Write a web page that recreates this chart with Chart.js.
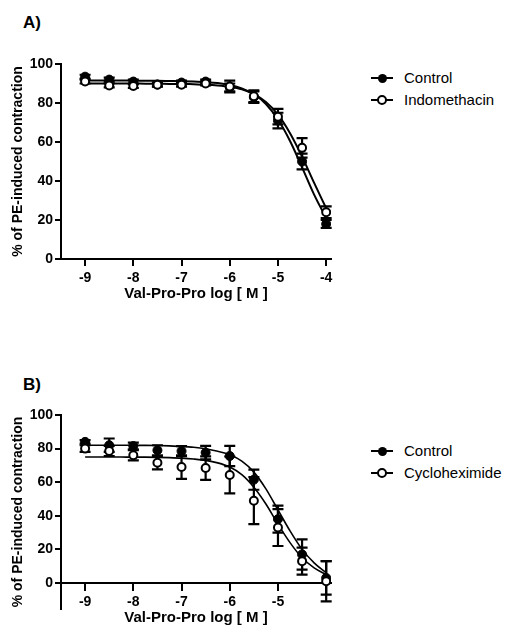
<!DOCTYPE html>
<html>
<head>
<meta charset="utf-8">
<title>Val-Pro-Pro dose response</title>
<script src="https://cdn.jsdelivr.net/npm/chart.js@4"></script>
<style>
body { margin: 0; background: #fff; width: 507px; height: 628px; position: relative; overflow: hidden; font-family: Arial, "Liberation Sans", sans-serif; color: #000; }
canvas { position: absolute; left: 0; }
.tag { position: absolute; left: 23px; font-weight: bold; font-size: 17px; line-height: 17px; }
.legend { position: absolute; left: 371px; font-size: 15px; }
.legend .row { position: relative; height: 22px; line-height: 22px; padding-left: 33px; white-space: nowrap; }
.legend .sym { position: absolute; left: 0; top: 10px; width: 22px; height: 2px; background: #000; }
.legend .dot { position: absolute; left: 6.5px; top: -3.5px; width: 9px; height: 9px; border-radius: 50%; background: #000; box-sizing: border-box; }
.legend .dot.open { left: 6px; top: -4px; width: 10px; height: 10px; background: #fff; border: 2px solid #000; }
</style>
</head>
<body>
<div class="tag" style="top:14px">A)</div>
<canvas id="chartA" width="345" height="310" style="top:0px"></canvas>
<div class="legend" id="legendA" style="top:67px"></div>

<div class="tag" style="top:376px">B)</div>
<canvas id="chartB" width="345" height="310" style="top:318px"></canvas>
<div class="legend" id="legendB" style="top:440px"></div>

<script>
// doses (log M) and the x positions used to trace the fitted curves
const doseX = [-9, -8.5, -8, -7.5, -7, -6.5, -6, -5.5, -5, -4.5, -4];
const fitX = [-9, -8.75, -8.5, -8.25, -8, -7.75, -7.5, -7.25, -7, -6.75, -6.5,
              -6.25, -6, -5.75, -5.5, -5.25, -5, -4.75, -4.5, -4.25, -4];

const xTickValues = [-9, -8, -7, -6, -5, -4];
const xTickLabelsA = ['-9', '-8', '-7', '-6', '-5', '-4'];
const xTickLabelsB = ['-9', '-8', '-7', '-6', '-5'];
const yTickValues = [0, 20, 40, 60, 80, 100];

const xTitle = 'Val-Pro-Pro log [ M ]';
const yTitle = '% of PE-induced contraction';

// Panel A
const seriesNamesA = ['Control', 'Indomethacin'];
const controlA = [93.5, 92, 91, 89.5, 90.5, 91, 88, 83, 71, 50, 18];
const controlErrA = [1, 1, 1, 1, 1, 1, 2, 3, 4, 4, 2];
const indoA = [91, 89, 88.7, 89.4, 89.4, 90, 88.5, 83.5, 73, 57, 24];
const indoErrA = [1, 1, 1, 1, 1, 1, 3, 3, 4, 5, 3];
const controlFitA = [91.5, 91.5, 91.5, 91.5, 91.5, 91.4, 91.4, 91.3, 91.2, 91, 90.7,
                     90.2, 89.2, 87.5, 84.5, 79.5, 71.5, 60.5, 47, 33, 21];
const indoFitA = [90, 90, 90, 90, 90, 89.9, 89.9, 89.8, 89.8, 89.6, 89.4,
                  89, 88.3, 87, 84.5, 80.5, 74, 64.5, 52.5, 39, 26];

// Panel B
const seriesNamesB = ['Control', 'Cycloheximide'];
const controlB = [84, 82, 81.5, 79, 78.5, 77.6, 75.6, 61.5, 38, 17, 3];
const controlErrB = [1, 4, 2, 3, 3, 4, 6, 6, 8, 9, 10];
const cycloB = [80, 78.6, 76, 71.6, 69, 68.4, 64.3, 49, 33, 13, 1];
const cycloErrB = [2, 3, 3, 4, 7, 7, 11, 14, 11, 8, 12];
const controlFitB = [82, 82, 82, 82, 81.9, 81.9, 81.8, 81.6, 81.3, 80.8, 79.9,
                     78.4, 76.3, 72.5, 66, 56, 43.5, 31, 20, 12, 6];
const cycloFitB = [75, 75, 75, 75, 74.9, 74.9, 74.8, 74.6, 74.3, 73.8, 73,
                   71.5, 69, 64.5, 57, 47, 35, 24, 15, 9, 5];

const FONT = 'Arial, "Liberation Sans", sans-serif';

function pts(xs, ys) {
    return xs.map((x, i) => ({ x: x, y: ys[i] }));
}

// SEM bars, drawn under the curves and the symbols
const errorBars = {
    id: 'errorBars',
    beforeDatasetsDraw(chart) {
        const { ctx, scales: { x, y } } = chart;
        ctx.save();
        ctx.strokeStyle = '#000';
        ctx.lineWidth = 2.2;
        chart.data.datasets.forEach(ds => {
            if (!ds.err) return;
            ds.data.forEach((p, i) => {
                const e = ds.err[i];
                if (!e) return;
                const px = x.getPixelForValue(p.x);
                const top = y.getPixelForValue(p.y + e);
                const bot = y.getPixelForValue(p.y - e);
                ctx.beginPath();
                ctx.moveTo(px, top); ctx.lineTo(px, bot);
                ctx.moveTo(px - 5.5, top); ctx.lineTo(px + 5.5, top);
                ctx.moveTo(px - 5.5, bot); ctx.lineTo(px + 5.5, bot);
                ctx.stroke();
            });
        });
        ctx.restore();
    }
};

function drawPanel(canvasId, p) {
    const ctx = document.getElementById(canvasId).getContext('2d');
    return new Chart(ctx, {
        type: 'scatter',
        data: {
            datasets: [
                {
                    label: p.names[0] + ' fit',
                    data: pts(fitX, p.fit1),
                    showLine: true,
                    borderColor: '#000',
                    borderWidth: p.lineW,
                    pointRadius: 0,
                    cubicInterpolationMode: 'monotone',
                    order: 3
                },
                {
                    label: p.names[1] + ' fit',
                    data: pts(fitX, p.fit2),
                    showLine: true,
                    borderColor: '#000',
                    borderWidth: p.lineW,
                    pointRadius: 0,
                    cubicInterpolationMode: 'monotone',
                    order: 2
                },
                {
                    label: p.names[0],
                    data: pts(doseX, p.y1),
                    err: p.e1,
                    pointRadius: 4.5,
                    backgroundColor: '#000',
                    borderColor: '#000',
                    borderWidth: 1,
                    order: 1
                },
                {
                    label: p.names[1],
                    data: pts(doseX, p.y2),
                    err: p.e2,
                    pointRadius: 4,
                    backgroundColor: '#fff',
                    borderColor: '#000',
                    borderWidth: 2,
                    order: 0
                }
            ]
        },
        options: {
            responsive: false,
            animation: false,
            events: [],
            layout: {
                padding: { left: 0, top: p.padTop, right: 14, bottom: p.padBottom }
            },
            plugins: {
                legend: { display: false },
                tooltip: { enabled: false }
            },
            scales: {
                x: {
                    type: 'linear',
                    min: -9.5,
                    max: -3.9,
                    position: p.xPos,
                    afterBuildTicks: s => { s.ticks = xTickValues.map(v => ({ value: v })); },
                    afterFit: s => { s.height = p.xHeight; },
                    border: { color: '#000', width: 2 },
                    grid: { drawOnChartArea: false, drawTicks: true, tickLength: 7, color: '#000', lineWidth: 2 },
                    ticks: {
                        color: '#000',
                        padding: 4,
                        maxRotation: 0,
                        autoSkip: false,
                        font: { family: FONT, size: 14, weight: 'bold' },
                        callback: (v, i) => p.xLabels[i] ?? ''
                    },
                    title: {
                        display: true,
                        text: xTitle,
                        color: '#000',
                        font: { family: FONT, size: 15, weight: 'bold' },
                        padding: { top: 0, bottom: p.xTitlePad }
                    }
                },
                y: {
                    type: 'linear',
                    min: p.yMin,
                    max: 100,
                    afterBuildTicks: s => { s.ticks = yTickValues.map(v => ({ value: v })); },
                    afterFit: s => { s.width = 61; },
                    border: { color: '#000', width: 2 },
                    grid: { drawOnChartArea: false, drawTicks: true, tickLength: 6, color: '#000', lineWidth: 2 },
                    ticks: {
                        color: '#000',
                        padding: 2,
                        font: { family: FONT, size: 14, weight: 'bold' },
                        callback: v => String(v)
                    },
                    title: {
                        display: true,
                        text: yTitle,
                        color: '#000',
                        font: { family: FONT, size: 14, weight: 'bold' },
                        padding: { top: 10, bottom: 0 }
                    }
                }
            }
        },
        plugins: [errorBars]
    });
}

function buildLegend(id, names) {
    const box = document.getElementById(id);
    names.forEach((name, i) => {
        const row = document.createElement('div');
        row.className = 'row';
        row.innerHTML = '<span class="sym"><span class="dot' + (i === 1 ? ' open' : '') + '"></span></span>';
        row.appendChild(document.createTextNode(name));
        box.appendChild(row);
    });
}

drawPanel('chartA', {
    names: seriesNamesA,
    y1: controlA, e1: controlErrA, fit1: controlFitA,
    y2: indoA, e2: indoErrA, fit2: indoFitA,
    lineW: 2,
    yMin: 0,
    xPos: 'bottom',
    xLabels: xTickLabelsA,
    padTop: 64, padBottom: 0,
    xHeight: 51, xTitlePad: 7
});
buildLegend('legendA', seriesNamesA);

drawPanel('chartB', {
    names: seriesNamesB,
    y1: controlB, e1: controlErrB, fit1: controlFitB,
    y2: cycloB, e2: cycloErrB, fit2: cycloFitB,
    lineW: 1.6,
    yMin: -15.5,
    xPos: { y: 0 },
    xLabels: xTickLabelsB,
    padTop: 97, padBottom: 19,
    xHeight: 50, xTitlePad: 6
});
buildLegend('legendB', seriesNamesB);
</script>
</body>
</html>
